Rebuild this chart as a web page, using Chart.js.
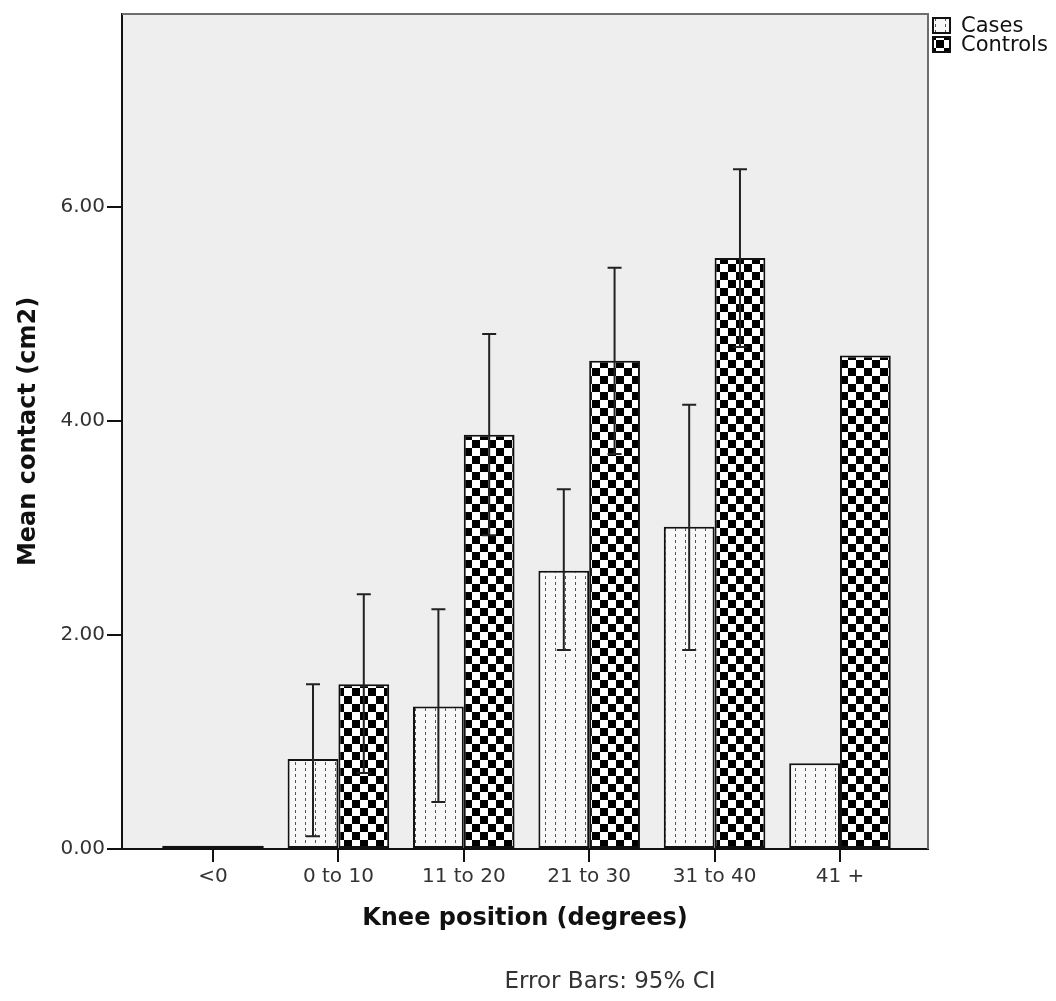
<!DOCTYPE html>
<html>
<head>
<meta charset="utf-8">
<script src="https://cdn.jsdelivr.net/npm/chart.js@4"></script>
<style>
  html, body { margin: 0; padding: 0; background: #fff; }
  #chart { display: block; }
</style>
</head>
<body>
<canvas id="chart" width="1056" height="1001"></canvas>
<script>
const categories = ['<0', '0 to 10', '11 to 20', '21 to 30', '31 to 40', '41 +'];
const casesMean = [0.03, 0.84, 1.33, 2.60, 3.01, 0.80];
const casesLow = [null, 0.12, 0.44, 1.86, 1.86, null];
const casesHigh = [null, 1.54, 2.24, 3.36, 4.15, null];
const controlsMean = [0.03, 1.54, 3.87, 4.56, 5.52, 4.61];
const controlsLow = [null, 0.71, 2.93, 3.69, 4.69, null];
const controlsHigh = [null, 2.38, 4.81, 5.43, 6.35, null];
const yTicks = [0, 2, 4, 6];

const FONT = "'DejaVu Sans', sans-serif";
const canvas = document.getElementById('chart');
const ctx = canvas.getContext('2d');

// bar fills: dotted for cases, checkerboard for controls
const makePattern = (w, h, paint) => {
    const c = document.createElement('canvas'); c.width = w; c.height = h;
    paint(c.getContext('2d'));
    return ctx.createPattern(c, 'repeat');
};
const dots = makePattern(10, 6, g => {
    g.fillStyle = '#f8f8f8'; g.fillRect(0, 0, 10, 6);
    g.fillStyle = '#555'; g.fillRect(5, 0, 1, 3);
});
const checker = makePattern(16, 16, g => {
    g.fillStyle = '#fff'; g.fillRect(0, 0, 16, 16);
    g.fillStyle = '#000'; g.fillRect(0, 0, 8, 8); g.fillRect(8, 8, 8, 8);
});

const framePlugin = {
    id: 'frame',
    beforeDraw(chart) {
        const { left, top, right, bottom } = chart.chartArea;
        const c = chart.ctx;
        c.save(); c.fillStyle = '#eeeeee'; c.fillRect(left, top, right - left, bottom - top); c.restore();
    },
    afterDraw(chart) {
        const { left, top, right, bottom } = chart.chartArea;
        const c = chart.ctx;
        c.save(); c.strokeStyle = '#6e6e6e'; c.lineWidth = 2;
        c.beginPath(); c.moveTo(left, top); c.lineTo(right, top); c.lineTo(right, bottom); c.stroke();
        c.restore();
    }
};

const errorBarPlugin = {
    id: 'errorBars',
    afterDatasetsDraw(chart) {
        const c = chart.ctx; const ys = chart.scales.y;
        c.save(); c.strokeStyle = '#222'; c.lineWidth = 2;
        chart.data.datasets.forEach((ds, d) => {
            chart.getDatasetMeta(d).data.forEach((bar, i) => {
                if (ds.lo[i] == null) return;
                const y1 = ys.getPixelForValue(ds.lo[i]), y2 = ys.getPixelForValue(ds.hi[i]);
                c.beginPath();
                c.moveTo(bar.x, y1); c.lineTo(bar.x, y2);
                c.moveTo(bar.x - 7, y1); c.lineTo(bar.x + 7, y1);
                c.moveTo(bar.x - 7, y2); c.lineTo(bar.x + 7, y2);
                c.stroke();
            });
        });
        c.restore();
    }
};

const legendPlugin = {
    id: 'legendNote',
    afterDraw(chart) {
        const c = chart.ctx;
        c.save();
        c.font = '21px ' + FONT; c.textBaseline = 'middle';
        chart.data.datasets.forEach((ds, d) => {
            const y = 18 + d * 19;
            c.fillStyle = ds.backgroundColor; c.fillRect(933, y, 17, 15);
            c.strokeStyle = '#111'; c.lineWidth = 2; c.strokeRect(933, y, 17, 15);
            c.fillStyle = '#111'; c.fillText(ds.label, 961, y + 9);
        });
        c.font = '23px ' + FONT; c.fillStyle = '#333'; c.textAlign = 'center';
        c.fillText('Error Bars: 95% CI', 610, 982);
        c.restore();
    }
};

new Chart(ctx, {
    type: 'bar',
    data: {
        datasets: [
            { label: 'Cases', data: casesMean.map((y, i) => ({ x: i, y })), lo: casesLow, hi: casesHigh,
              backgroundColor: dots, borderColor: '#111', borderWidth: 2, borderSkipped: false },
            { label: 'Controls', data: controlsMean.map((y, i) => ({ x: i, y })), lo: controlsLow, hi: controlsHigh,
              backgroundColor: checker, borderColor: '#111', borderWidth: 2, borderSkipped: false }
        ]
    },
    options: {
        responsive: false, animation: false,
        layout: { padding: { top: 11, right: 128, bottom: 52, left: 0 } },
        datasets: { bar: { categoryPercentage: 0.81, barPercentage: 1 } },
        plugins: { legend: { display: false }, tooltip: { enabled: false } },
        scales: {
            x: {
                type: 'linear', min: -0.7257, max: 5.702, offset: false,
                afterBuildTicks: s => { s.ticks = categories.map((c, i) => ({ value: i })); },
                afterFit: s => { s.height = 100; },
                ticks: { callback: v => categories[v], font: { family: FONT, size: 20 }, color: '#333', padding: 3, autoSkip: false, maxRotation: 0 },
                grid: { offset: false, drawOnChartArea: false, tickLength: 13, color: '#111', lineWidth: 2 },
                border: { color: '#111', width: 2 },
                title: { display: true, text: 'Knee position (degrees)', color: '#111',
                         font: { family: FONT, size: 24, weight: 'bold' }, padding: { top: 0, bottom: 16 } }
            },
            y: {
                min: 0, max: 7.8,
                afterBuildTicks: s => { s.ticks = yTicks.map(v => ({ value: v })); },
                afterFit: s => { s.width = 122; },
                ticks: { callback: v => v.toFixed(2), font: { family: FONT, size: 20 }, color: '#333', padding: 2 },
                grid: { drawOnChartArea: false, tickLength: 15, color: '#111', lineWidth: 2 },
                border: { color: '#111', width: 2 },
                title: { display: true, text: 'Mean contact (cm2)', color: '#111',
                         font: { family: FONT, size: 24, weight: 'bold' }, padding: { top: 14, bottom: 0 } }
            }
        }
    },
    plugins: [framePlugin, errorBarPlugin, legendPlugin]
});
</script>
</body>
</html>
